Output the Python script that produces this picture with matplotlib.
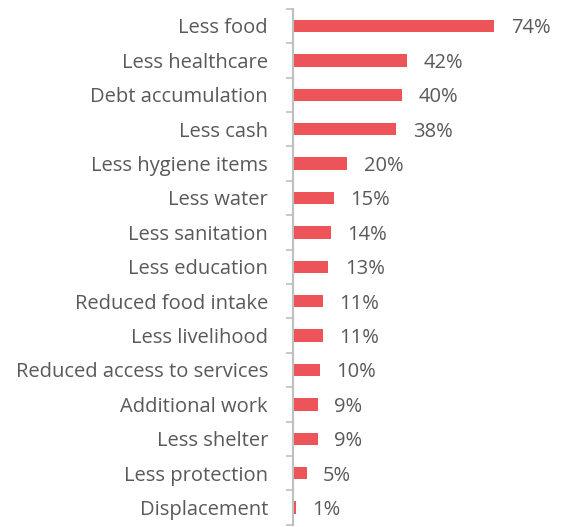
import matplotlib.pyplot as plt
import numpy as np

categorias = [
    'Less food', 'Less healthcare', 'Debt accumulation', 'Less cash',
    'Less hygiene items', 'Less water', 'Less sanitation', 'Less education',
    'Reduced food intake', 'Less livelihood', 'Reduced access to services',
    'Additional work', 'Less shelter', 'Less protection', 'Displacement',
]
valores = [74, 42, 40, 38, 20, 15, 14, 13, 11, 11, 10, 9, 9, 5, 1]

plt.rcParams['font.family'] = ['Open Sans', 'DejaVu Sans']

fig = plt.figure(figsize=(5.62, 5.27), dpi=100)
# eixo posicionado à mão para deixar espaço aos rótulos longos
ax = fig.add_axes([293 / 562, 1 - 524.7 / 527, 245 / 562, (524.7 - 8.8) / 527])

y = np.arange(len(categorias))
ax.barh(y, valores, height=0.36, color='#EC5459', zorder=2)

for yi, v in zip(y, valores):
    ax.text(v + 6, yi, f'{v}%', ha='left', va='center_baseline',
            fontsize=14.5, color='#595959')

ax.set_xlim(0, 90)
ax.set_ylim(len(categorias) - 0.5, -0.5)
ax.set_yticks(y)
ax.set_yticklabels(categorias, fontsize=14.5, color='#595959')
ax.tick_params(axis='y', which='major', length=0, pad=18)
# marcas de divisão entre categorias
ax.set_yticks(np.arange(len(categorias) + 1) - 0.5, minor=True)
ax.tick_params(axis='y', which='minor', length=5, width=1.2, color='#BFBFBF')
ax.set_xticks([])

for lado in ['top', 'right', 'bottom']:
    ax.spines[lado].set_visible(False)
ax.spines['left'].set_color('#BFBFBF')
ax.spines['left'].set_linewidth(1.5)

fig.savefig('out.png', dpi=100)
